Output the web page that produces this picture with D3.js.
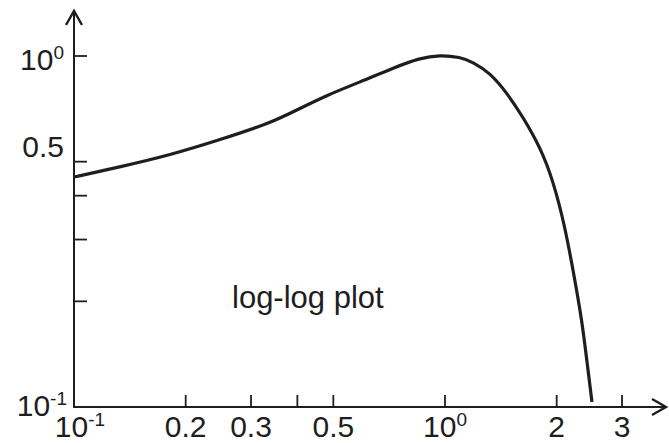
<!DOCTYPE html>
<html>
<head>
<meta charset="utf-8">
<script src="https://cdn.jsdelivr.net/npm/d3@7"></script>
<style>
  html, body { margin: 0; padding: 0; background: #fff; }
  svg { display: block; }
  text { font-family: "Liberation Sans", Arial, sans-serif; fill: #1e1e1e; }
</style>
</head>
<body>
<svg id="chart" width="669" height="443"></svg>
<script>
// Curve samples (x, y), both on logarithmic axes
const curveX = [0.1, 0.133, 0.1815, 0.2475, 0.3375, 0.389, 0.481, 0.590, 0.724, 0.856, 0.969,
                1.098, 1.190, 1.322, 1.469, 1.623, 1.803, 1.955, 2.106, 2.213, 2.340, 2.429, 2.490];
const curveY = [0.452, 0.483, 0.522, 0.577, 0.644, 0.693, 0.774, 0.843, 0.924, 0.987, 1.007,
                0.993, 0.961, 0.895, 0.785, 0.670, 0.551, 0.443, 0.326, 0.246, 0.177, 0.1274, 0.1033];

// Axis ticks
const xTicks = [0.2, 0.3, 0.4, 0.5, 1, 2, 3];
const xTickLabels = [
  { v: 0.1, base: "10", sup: "-1" },
  { v: 0.2, base: "0.2" },
  { v: 0.3, base: "0.3" },
  { v: 0.5, base: "0.5" },
  { v: 1,   base: "10", sup: "0" },
  { v: 2,   base: "2" },
  { v: 3,   base: "3" }
];
const yTicks = [1, 0.5, 0.4, 0.3, 0.2];
const yTickLabels = [
  { v: 1,   base: "10", sup: "0" },
  { v: 0.5, base: "0.5" },
  { v: 0.1, base: "10", sup: "-1" }
];
const annotation = "log-log plot";

const svg = d3.select("#chart");
const ink = "#1e1e1e";

const x = d3.scaleLog().domain([0.1, 1]).range([74, 445]);
const y = d3.scaleLog().domain([0.1, 1]).range([407, 56]);

const x0 = x(0.1), y0 = y(0.1);

// axis lines with open arrowheads
svg.append("line").attr("x1", x0).attr("y1", y0).attr("x2", x0).attr("y2", 11)
  .attr("stroke", ink).attr("stroke-width", 2);
svg.append("line").attr("x1", x0 - 1).attr("y1", y0).attr("x2", 666).attr("y2", y0)
  .attr("stroke", ink).attr("stroke-width", 2);
svg.append("path")
  .attr("d", `M${x0 - 8},${25} L${x0},${11} L${x0 + 8},${25}`)
  .attr("fill", "none").attr("stroke", ink).attr("stroke-width", 2.4);
svg.append("path")
  .attr("d", `M${652},${399} L${666},${y0} L${652},${415}`)
  .attr("fill", "none").attr("stroke", ink).attr("stroke-width", 2.4);

// tick marks
svg.selectAll(".xt").data(xTicks).enter().append("line")
  .attr("x1", d => x(d)).attr("x2", d => x(d))
  .attr("y1", y0).attr("y2", y0 - 12)
  .attr("stroke", ink).attr("stroke-width", 1.8);
svg.selectAll(".yt").data(yTicks).enter().append("line")
  .attr("x1", x0).attr("x2", x0 + 13)
  .attr("y1", d => y(d)).attr("y2", d => y(d))
  .attr("stroke", ink).attr("stroke-width", 1.8);

function addLabel(g, d) {
  const t = g.append("text");
  t.append("tspan").text(d.base);
  if (d.sup) {
    t.append("tspan").attr("font-size", 19).attr("dy", -11).text(d.sup);
  }
  return t;
}

// x tick labels
xTickLabels.forEach(d => {
  const shift = d.sup === "-1" ? 6 : 0;
  addLabel(svg, d).attr("x", x(d.v) + shift).attr("y", 437)
    .attr("text-anchor", "middle").attr("font-size", 30);
});

// y tick labels
const yLift = { 1: 14, 0.5: -5, 0.1: 9 };
yTickLabels.forEach(d => {
  addLabel(svg, d).attr("x", d.v === 0.1 ? 67 : 64).attr("y", y(d.v) + yLift[d.v])
    .attr("text-anchor", "end").attr("font-size", 30);
});

// the curve, smoothed through the samples
const line = d3.line()
  .x(d => x(d[0])).y(d => y(d[1]))
  .curve(d3.curveBasis);
svg.append("path")
  .datum(d3.zip(curveX, curveY))
  .attr("d", line)
  .attr("fill", "none").attr("stroke", ink).attr("stroke-width", 3.2)
  .attr("stroke-linejoin", "round").attr("stroke-linecap", "butt");

// annotation
svg.append("text").attr("x", 232).attr("y", 308).attr("font-size", 31).text(annotation);
</script>
</body>
</html>
